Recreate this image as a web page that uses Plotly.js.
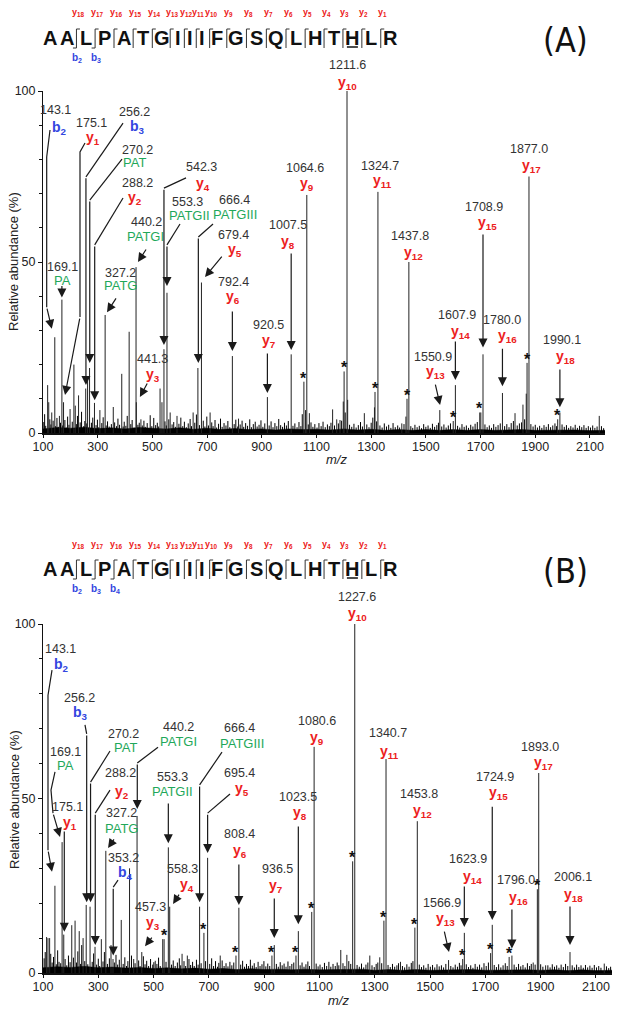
<!DOCTYPE html>
<html><head><meta charset="utf-8">
<script src="https://cdn.plot.ly/plotly-3.0.1.min.js"></script>
<style>html,body{margin:0;padding:0;background:#fff}#chart{width:623px;height:1011px}</style>
</head><body><div id="chart"></div>
<script>
// ---------------- DATA ----------------
const sequence = "AALPATGIIIFGSQLHTHLR";
const yIonNumbers = [18,17,16,15,14,13,12,11,10,9,8,7,6,5,4,3,2,1];
const bIonsA = [2,3];
const bIonsB = [2,3,4];

// Panel A: annotated peaks
const peaksA_mz  = [143.1,169.1,175.1,256.2,270.2,288.2,327.2,440.2,441.3,542.3,553.3,666.4,679.4,792.4,920.5,1007.5,1064.6,1211.6,1324.7,1437.8,1550.9,1607.9,1708.9,1780.0,1877.0,1990.1];
const peaksA_int = [28,39,9,13,19,8.8,34.5,48.5,9,24.5,41,19,44,22.5,10.5,23,69.6,100,70.5,50,6.7,14,23,11.7,75,6];
const peaksA_ion = ['b2','PA','y1','b3','PAT','y2','PATG','PATGI','y3','y4','PATGII','PATGIII','y5','y6','y7','y8','y9','y10','y11','y12','y13','y14','y15','y16','y17','y18'];
// Panel A: other (unlabelled) peaks
const otherA = [[117,14],[121,9],[132,6],[160,5],[199,7],[213,20],[218,8],[230,11],[263,16],[308,6.7],[357,7.6],[388,17.3],[415,29.6],[458,4],[528,13],[535,9],[565,6],[590,5],[649,6],[711,6],[815,4.2],[1054,15],[1060,6.7],[1074,5.8],[1159,6.9],[1174,4],[1186,3.8],[1198,9.2],[1201,18],[1214,9.7],[1275,5.8],[1312,7.5],[1314,12],[1412,2.8],[1427,4.8],[1431,10],[1600,3.5],[1697,6],[1701,6],[1826,5.8],[1855,8.3],[1867,11.5],[1870,20.5],[1982,4],[2134,5]];
const starsA = [1054,1201,1314,1431,1600,1697,1870,1982];
const noiseA = [[103,3.2],[106,5.5],[110,2.1],[125,4.0],[129,2.5],[137,3.6],[146,2.0],[151,4.4],[156,1.8],[164,3.0],[172,2.2],[180,3.8],[185,1.6],[190,4.8],[195,2.4],[207,3.3],[222,2.6],[226,5.0],[236,3.1],[241,6.2],[249,2.0],[253,3.5],[260,2.8],[277,3.0],[282,4.5],[294,2.3],[299,3.9],[304,1.7],[315,2.9],[320,4.6],[331,2.2],[336,3.4],[342,1.9],[350,2.6],[362,3.1],[369,2.0],[374,4.2],[380,2.4],[393,1.9],[397,3.3],[403,2.1],[408,5.0],[421,2.6],[426,3.8],[433,1.6],[447,2.4],[452,3.0],[463,2.2],[469,3.6],[474,1.8],[481,2.9],[492,5.2],[498,2.0],[505,4.4],[512,2.3],[518,3.0],[523,1.9],[546,3.4],[551,2.2],[560,4.0],[572,2.5],[578,3.2],[584,1.8],[597,2.7],[604,4.5],[611,2.0],[617,3.3],[624,1.7],[631,2.8],[638,4.1],[643,2.0],[655,3.0],[661,5.4],[672,2.3],[686,3.6],[692,1.9],[699,4.8],[705,2.2],[717,3.1],[722,2.0],[729,3.8],[735,1.6],[742,2.7],[749,4.2],[755,1.8],[762,2.9],[769,2.2],[776,3.5],[783,1.7],[799,2.6],[805,3.9],[812,1.9],[821,2.5],[828,3.6],[834,1.8],[841,2.9],[848,2.1],[856,4.0],[862,1.7],[869,2.6],[876,3.3],[883,1.9],[890,2.4],[897,3.7],[904,1.8],[911,2.8],[927,2.2],[934,3.4],[941,1.7],[948,2.9],[955,2.0],[962,4.1],[969,2.3],[976,1.8],[983,3.0],[990,2.2],[997,3.5],[1014,2.1],[1021,2.8],[1029,1.7],[1036,3.2],[1043,2.0],[1048,5.5],[1070,2.5],[1080,3.1],[1087,1.8],[1094,2.6],[1102,1.6],[1109,2.9],[1117,2.0],[1124,3.3],[1132,1.7],[1140,2.5],[1147,2.0],[1153,3.0],[1166,2.2],[1180,2.8],[1192,3.6],[1205,6.0],[1221,2.4],[1229,1.8],[1237,2.7],[1245,1.6],[1253,2.3],[1261,3.2],[1268,1.9],[1284,2.5],[1292,1.7],[1300,3.0],[1306,4.5],[1320,3.4],[1332,2.2],[1340,1.6],[1348,2.8],[1356,1.9],[1364,2.4],[1372,1.5],[1380,2.9],[1388,1.7],[1397,2.2],[1404,1.6],[1420,2.6],[1445,2.0],[1452,1.5],[1460,2.4],[1468,1.7],[1476,2.1],[1484,1.4],[1492,2.6],[1500,1.8],[1508,2.2],[1516,1.5],[1524,2.7],[1532,1.8],[1540,2.3],[1546,3.0],[1558,1.9],[1566,2.5],[1574,1.6],[1582,2.2],[1590,2.8],[1616,2.1],[1624,1.6],[1632,2.6],[1640,1.8],[1648,2.2],[1656,1.5],[1664,2.4],[1672,1.9],[1680,2.7],[1688,3.2],[1716,2.5],[1724,1.7],[1732,2.2],[1740,1.5],[1748,2.6],[1756,1.8],[1764,2.3],[1772,2.8],[1788,2.0],[1796,2.6],[1804,1.7],[1812,2.9],[1820,3.5],[1834,2.2],[1842,2.8],[1850,3.1],[1861,4.0],[1884,2.6],[1892,1.9],[1900,2.4],[1908,1.6],[1916,2.1],[1924,1.5],[1932,2.3],[1940,1.8],[1948,2.6],[1956,1.7],[1964,2.2],[1972,2.8],[1978,2.0],[1998,2.5],[2006,1.8],[2014,2.3],[2022,1.5],[2030,2.0],[2038,1.6],[2046,2.4],[2054,1.5],[2062,2.1],[2070,1.7],[2078,2.3],[2086,1.5],[2094,2.0],[2102,1.6],[2110,2.2],[2118,1.5],[2126,1.9],[2142,2.0],[2150,1.4]];
const floorA = [[100,1.2],[150,1.6],[200,1.4],[250,1.7],[300,1.3],[350,1.5],[400,1.2],[450,1.6],[500,1.4],[550,1.2],[600,1.5],[650,1.1],[700,1.4],[750,1.0],[800,1.3],[850,1.0],[900,1.2],[950,0.9],[1000,1.2],[1050,1.0],[1100,1.1],[1150,0.9],[1200,1.2],[1250,0.9],[1300,1.1],[1350,0.8],[1400,1.0],[1450,0.8],[1500,1.0],[1550,0.8],[1600,1.0],[1650,0.8],[1700,1.0],[1750,0.8],[1800,0.9],[1850,1.0],[1900,0.8],[1950,0.9],[2000,0.8],[2050,0.9],[2100,0.7],[2155,0.8]];

// Panel B: annotated peaks
const peaksB_mz  = [143.1,169.1,175.1,256.2,270.2,288.2,327.2,353.2,440.2,457.3,553.3,558.3,666.4,695.4,808.4,936.5,1023.5,1080.6,1227.6,1340.7,1453.8,1566.9,1623.9,1724.9,1796.0,1893.0,2006.1];
const peaksB_int = [25,37.5,11,19.5,19,7.5,35,4,45,6,36,19,19,33,18.7,8,12,64.8,100,61.3,43.5,3.7,11.5,13.8,5,57.3,6];
const peaksB_ion = ['b2','PA','y1','b3','PAT','y2','PATG','b4','PATGI','y3','PATGII','y4','PATGIII','y5','y6','y7','y8','y9','y10','y11','y12','y13','y14','y15','y16','y17','y18'];
const otherB = [[113,10.3],[118,10],[124,10],[204,13.7],[216,15],[231,12],[245,10],[311,9.7],[346,8],[383,15.2],[413,30],[428,4],[506,3.5],[533,9.7],[538,9.7],[603,5.5],[622,5],[682,11.5],[741,5],[798,5],[928,5],[1015,5],[1072,17.5],[1177,6.6],[1199,5.2],[1220,32],[1282,5],[1318,4.5],[1333,15],[1393,3.2],[1445,13],[1618,4],[1719,5.7],[1786,4.6],[1873,3],[1888,24],[1918,2.2],[2130,2.7]];
const starsB = [538,682,798,928,1015,1072,1220,1333,1445,1618,1719,1786,1888];
const noiseB = [[104,4.2],[108,6.0],[128,5.5],[133,3.0],[138,4.6],[148,2.5],[153,6.5],[158,3.2],[164,2.8],[180,4.0],[186,2.2],[192,5.0],[198,3.1],[210,4.4],[221,3.0],[226,6.2],[236,2.6],[240,8.0],[251,3.4],[262,2.5],[278,3.2],[283,5.6],[294,2.4],[300,4.1],[305,2.0],[317,3.3],[322,6.0],[333,2.6],[340,4.2],[358,3.0],[364,5.2],[370,2.4],[376,3.8],[390,2.6],[396,4.5],[402,2.0],[407,3.4],[420,5.0],[433,2.8],[446,3.6],[451,2.0],[463,4.8],[469,2.5],[475,3.5],[482,2.0],[489,4.0],[497,2.4],[501,3.1],[512,2.6],[518,4.4],[524,2.0],[545,3.2],[565,2.4],[571,3.6],[578,2.0],[586,3.0],[593,4.2],[598,2.2],[610,3.4],[616,2.0],[628,4.0],[634,2.3],[641,3.2],[647,2.0],[655,3.8],[661,2.4],[672,2.8],[688,3.4],[703,2.6],[710,4.2],[717,2.0],[724,3.4],[731,1.8],[736,2.9],[748,3.6],[755,2.0],[762,2.8],[769,1.9],[776,3.2],[783,2.2],[790,3.0],[815,2.4],[822,3.5],[829,1.8],[836,2.6],[843,2.0],[850,3.8],[857,2.1],[864,2.8],[871,1.7],[878,3.2],[885,2.0],[892,2.5],[899,3.4],[906,1.9],[913,2.7],[920,2.0],[944,2.6],[951,1.8],[958,3.1],[965,2.2],[972,2.7],[979,1.8],[986,3.3],[993,2.0],[1000,2.6],[1007,3.0],[1030,2.2],[1037,3.0],[1044,1.8],[1051,2.5],[1058,3.3],[1064,2.0],[1088,2.7],[1095,1.9],[1102,2.4],[1110,1.7],[1118,2.9],[1126,2.0],[1134,3.2],[1141,1.8],[1149,2.6],[1157,2.0],[1164,3.0],[1170,2.2],[1185,2.8],[1192,2.0],[1206,3.4],[1213,2.6],[1236,2.3],[1244,1.8],[1252,2.7],[1260,1.6],[1268,2.4],[1275,3.0],[1290,2.2],[1298,1.7],[1305,2.6],[1311,3.0],[1325,2.8],[1348,2.3],[1356,1.7],[1364,2.6],[1372,1.8],[1380,2.2],[1386,2.8],[1400,2.0],[1408,1.6],[1416,2.5],[1424,1.8],[1432,2.9],[1438,3.4],[1461,2.4],[1469,1.7],[1477,2.2],[1485,1.5],[1493,2.6],[1501,1.8],[1509,2.3],[1517,1.6],[1525,2.5],[1533,1.9],[1541,2.2],[1549,1.6],[1557,2.6],[1575,2.0],[1583,1.6],[1591,2.4],[1599,1.8],[1606,2.9],[1612,2.2],[1631,2.5],[1639,1.7],[1647,2.2],[1655,1.5],[1663,2.6],[1671,1.8],[1679,2.4],[1687,1.6],[1695,2.8],[1703,2.0],[1711,3.0],[1732,2.3],[1740,1.7],[1748,2.5],[1756,1.6],[1764,2.2],[1772,2.8],[1779,2.0],[1804,2.4],[1812,1.7],[1820,2.6],[1828,1.9],[1836,2.3],[1844,1.6],[1852,2.8],[1860,2.0],[1866,2.6],[1880,2.4],[1900,2.5],[1908,1.8],[1926,2.2],[1934,1.6],[1942,2.5],[1950,1.8],[1958,2.2],[1966,1.5],[1974,2.4],[1982,1.7],[1990,2.6],[1998,2.0],[2014,2.2],[2022,1.6],[2030,2.4],[2038,1.7],[2046,2.2],[2054,1.5],[2062,2.3],[2070,1.6],[2078,2.1],[2086,1.5],[2094,2.3],[2102,1.6],[2110,2.0],[2118,1.5],[2138,1.9],[2146,1.4],[2153,1.8]];
const floorB = [[100,1.5],[150,1.8],[200,1.6],[250,1.9],[300,1.5],[350,1.7],[400,1.4],[450,1.6],[500,1.3],[550,1.5],[600,1.2],[650,1.4],[700,1.1],[750,1.3],[800,1.0],[850,1.2],[900,1.0],[950,1.1],[1000,0.9],[1050,1.1],[1100,0.9],[1150,1.0],[1200,0.9],[1250,1.1],[1300,0.8],[1350,1.0],[1400,0.8],[1450,1.0],[1500,0.8],[1550,0.9],[1600,0.8],[1650,1.0],[1700,0.8],[1750,0.9],[1800,0.8],[1850,0.9],[1900,0.8],[1950,0.9],[2000,0.7],[2050,0.9],[2100,0.7],[2158,0.8]];

// ---------------- LAYOUT SPECS (label placement, leader lines) ----------------
const layA = [
 {mx:144,my:94.4,ix:162,iy:89.2,path:[[125.6,88.6],[113.5,80.7],[113.5,36.8]],dx:-11,dy:2.5},
 {mx:173,my:48.5,ix:173,iy:44.7,path:[[169.1,43.4]],dx:0,dy:0.6},
 {mx:279,my:90.6,ix:283,iy:86.3,path:[[253.6,84.8],[235.3,82.2],[235.3,33.9]],dx:5.4,dy:2.1},
 {mx:436,my:93.9,ix:444,iy:89.5,path:[[392.6,90.6],[257,74.9]],dx:0.8,dy:1},
 {mx:444,my:82.7,ix:436,iy:79.2,path:[[388.9,80.1],[271,68.1]],dx:0.8,dy:1.5},
 {mx:444,my:73.1,ix:436,iy:68.7,path:[[392.6,68.7],[289,55]],dx:0.8,dy:0.8},
 {mx:385,my:46.8,ix:385,iy:43.0,path:[[370.6,39.8]],dx:6.8,dy:0.8},
 {mx:480,my:61.7,ix:473,iy:57.6,path:[[480.3,54.1]],dx:7,dy:1.5},
 {mx:499,my:21.6,ix:502,iy:17,path:[[484,14.9]],dx:13,dy:1.5},
 {mx:681,my:77.8,ix:685,iy:72.8,path:[[622.9,74.6],[542.3,71.6]],dx:0,dy:1.2},
 {mx:630,my:67.5,ix:634,iy:63.7,path:[[601,61.1],[553.3,55]],dx:0,dy:2},
 {mx:802,my:68.1,ix:802,iy:64,path:[[721.7,61.1],[668,57.3]],dx:1.6,dy:1.5},
 {mx:795,my:57.9,ix:802,iy:53.5,path:[[758.3,52]],dx:13,dy:1.6},
 {mx:795,my:44.2,ix:795,iy:39.8,path:[[792.4,36]],dx:0,dy:1.5},
 {mx:926,my:31.6,ix:926,iy:26.9,path:[[920.5,23.7]],dx:0,dy:1.2},
 {mx:996,my:60.8,ix:996,iy:55.8,path:[[1007.5,52.9]],dx:0,dy:1.3},
 {mx:1058,my:77.5,ix:1065,iy:72.8},
 {mx:1215,my:107.6,ix:1215,iy:102.3},
 {mx:1332,my:78.1,ix:1340,iy:73.7},
 {mx:1442,my:57.6,ix:1453,iy:52.6},
 {mx:1526,my:22.2,ix:1537,iy:17.8,path:[[1533.5,14.6]],dx:1,dy:1.5},
 {mx:1614,my:34.5,ix:1625,iy:29.5,path:[[1607.9,27.2]],dx:0,dy:1.5},
 {mx:1713,my:66.1,ix:1724,iy:61.4,path:[[1708.9,58.5]],dx:0,dy:2},
 {mx:1778,my:33,ix:1797,iy:28.4,path:[[1780,25.1]],dx:0,dy:2},
 {mx:1877,my:83,ix:1888,iy:78.1},
 {mx:1998,my:27.2,ix:2009,iy:22.2,path:[[1990.1,19]],dx:0,dy:1.5}
];
const layB = [
 {mx:161.5,my:92.8,ix:168.7,iy:88.2,path:[[132.6,86.8],[118.1,79.6],[118.1,35.2]],dx:-10.5,dy:4},
 {mx:179.6,my:63.3,ix:179.6,iy:59.6,path:[[143.4,57.6],[128.9,52.4],[136.2,45.8]],dx:-7.6,dy:1.5},
 {mx:186.8,my:47.6,ix:197.7,iy:43,path:[[177,41]],dx:1.9,dy:0.8},
 {mx:233.8,my:78.8,ix:237.4,iy:74.5,path:[[251.9,71.1],[258,68.5]],dx:1.8,dy:0.8},
 {mx:389.4,my:68.5,ix:396.6,iy:64.7,path:[[342.3,63.6],[272,54.7]],dx:1.8,dy:1.3},
 {mx:378.5,my:57.3,ix:385.7,iy:51.9,path:[[342.3,52.4],[289,45.8]],dx:0.8,dy:0.5},
 {mx:385.7,my:45.8,ix:385.7,iy:41.5,path:[[360.4,38.7]],dx:8,dy:0.8},
 {mx:389.4,my:32.9,ix:396.6,iy:28.7,path:[[371.3,26.6],[354,24.6]],dx:0.8,dy:1},
 {mx:588.3,my:70.5,ix:588.3,iy:66.2,path:[[516,64.7],[441,60.2]],dx:0.8,dy:2},
 {mx:487,my:18.9,ix:497.9,iy:14.3,path:[[497.9,10.6]],dx:11.6,dy:1.7},
 {mx:566.6,my:56.2,ix:566.6,iy:51.9,path:[[553.3,49]],dx:0,dy:1.2},
 {mx:602.8,my:29.8,ix:620.8,iy:25.2,path:[[595.5,22.9]],dx:12,dy:0.8},
 {mx:812.5,my:70.2,ix:819.8,iy:65.9,path:[[747.4,63.3],[666.4,53.9]],dx:0,dy:1.3},
 {mx:812.5,my:57.3,ix:819.8,iy:52.7,path:[[776.4,51.3],[695.4,45.8]],dx:0,dy:1.4},
 {mx:808.9,my:39.8,ix:812.5,iy:35,path:[[808.4,31.5]],dx:0,dy:0.8},
 {mx:946.4,my:29.8,ix:942.8,iy:24.9,path:[[936.5,21.8]],dx:0,dy:2},
 {mx:1022.3,my:50.4,ix:1029.6,iy:45.8,path:[[1023.5,42.4]],dx:0,dy:2},
 {mx:1091,my:72.2,ix:1091,iy:67.3},
 {mx:1235.7,my:107.7,ix:1235.7,iy:102.9},
 {mx:1347.9,my:68.8,ix:1351.5,iy:63.3},
 {mx:1460,my:51.3,ix:1470.8,iy:46.4},
 {mx:1543.2,my:20.1,ix:1554,iy:15.5,path:[[1550.4,12.3]],dx:1.6,dy:2.3},
 {mx:1637.2,my:32.7,ix:1651.7,iy:27.5,path:[[1623.9,25.2]],dx:0,dy:1.7},
 {mx:1734.9,my:56.2,ix:1745.7,iy:51.6,path:[[1724.9,48.1]],dx:0,dy:1.4},
 {mx:1810.8,my:26.6,ix:1818.1,iy:21.5,path:[[1796,18.6]],dx:0,dy:2},
 {mx:1897.6,my:64.7,ix:1908.5,iy:60.2},
 {mx:2017,my:27.5,ix:2017,iy:22.3,path:[[2006.1,19.5]],dx:0,dy:2}
];
const letterX = [50,67,85.9,104.3,123.7,142.6,162,178.4,190.3,202.2,217.1,236.5,256.4,276.3,295.7,314.6,333.5,352.4,371.3,390.2];

// ---------------- BUILD ----------------
const FONT = 'Liberation Sans, Arial, Helvetica, sans-serif';
const W = 623, H = 1011, ML = 43, PW = 580;
const px2x = px => (px - ML) / PW;
const py2y = py => 1 - py / H;
const RED = '#ec2020', GREEN = '#1fa85a', BLUE = '#3246e0', INK = '#1a1a1a';

const axes = {
  x:  {domain:[0, 562/PW], range:[100, 2155]},
  x2: {domain:[0, 569/PW], range:[100, 2158]},
  y:  {domain:[(H-433)/H, (H-91)/H], range:[0, 100]},
  y2: {domain:[(H-973)/H, (H-624)/H], range:[0, 100]}
};
const toPaper = (ax, v) => { const a = axes[ax]; return a.domain[0] + (v - a.range[0]) / (a.range[1] - a.range[0]) * (a.domain[1] - a.domain[0]); };

const traces = [], annotations = [], shapes = [];

function sticks(pairs, xa, ya, color, width) {
  const x = [], y = [];
  pairs.forEach(([m, v]) => { x.push(m, m, null); y.push(0, v, null); });
  traces.push({type:'scatter', mode:'lines', x, y, xaxis:xa, yaxis:ya, line:{color, width}, hoverinfo:'skip', showlegend:false});
}
function floorTrace(pairs, xa, ya) {
  traces.push({type:'scatter', mode:'lines', x:pairs.map(p=>p[0]), y:pairs.map(p=>p[1]), xaxis:xa, yaxis:ya,
    fill:'tozeroy', fillcolor:'#000', line:{color:'#000', width:0.5}, hoverinfo:'skip', showlegend:false});
}
function ionHtml(lbl) {
  const m = /^([yb])(\d+)$/.exec(lbl);
  if (m) return {text:`<b>${m[1]}<sub>${m[2]}</sub></b>`, color: m[1]==='y'?RED:BLUE, size:14};
  return {text: lbl, color: GREEN, size: 13};
}
function label(xa, ya, x, y, text, font) {
  const a = {text, font, showarrow:false, xanchor:'center', yanchor:'middle'};
  if (y > 100) { a.xref = 'paper'; a.yref = 'paper'; a.x = toPaper(xa, x); a.y = toPaper(ya, y); }
  else { a.xref = xa; a.yref = ya; a.x = x; a.y = y; }
  annotations.push(a);
}
function panel(mzArr, intArr, ionArr, others, stars, noise, floor, lay, xa, ya) {
  floorTrace(floor, xa, ya);
  sticks(noise, xa, ya, '#000', 1);
  sticks(others, xa, ya, '#222', 1);
  sticks(mzArr.map((m,i)=>[m, intArr[i]]), xa, ya, '#222', 1);
  mzArr.forEach((m, i) => {
    const I = intArr[i], L = lay[i];
    label(xa, ya, L.mx, L.my, m.toFixed(1), {family:FONT, size:12.5, color:'#333'});
    const ion = ionHtml(ionArr[i]);
    label(xa, ya, L.ix, L.iy, ion.text, {family:FONT, size:ion.size, color:ion.color});
    if (L.path) {
      const pts = L.path;
      if (pts.length > 1) {
        shapes.push({type:'path', xref:xa, yref:ya, layer:'above',
          path:'M' + pts.map(p => p[0] + ',' + p[1]).join('L'), line:{color:INK, width:1.2}});
      }
      const tail = pts[pts.length - 1];
      annotations.push({xref:xa, yref:ya, axref:xa, ayref:ya, x:m + L.dx, y:I + L.dy,
        ax:tail[0], ay:tail[1], text:'', showarrow:true, arrowhead:2, arrowsize:1.5,
        arrowwidth:1.2, arrowcolor:INK, standoff:0});
    }
  });
  stars.forEach(s => {
    const p = others.find(o => o[0] === s);
    annotations.push({xref:xa, yref:ya, x:s, y:p[1], text:'<b>*</b>', showarrow:false,
      font:{family:FONT, size:16, color:'#111'}, xanchor:'center', yanchor:'bottom', yshift:-7});
  });
}
function header(off, bIons, lbl) {
  const yL = 38 + off, top = 29 + off, bot = 48 + off;
  for (let i = 0; i < sequence.length; i++) {
    annotations.push({xref:'paper', yref:'paper', x:px2x(letterX[i]), y:py2y(yL),
      text:'<b>' + sequence[i] + '</b>', showarrow:false, xanchor:'center', yanchor:'middle',
      font:{family:FONT, size:20, color:'#111'}});
  }
  yIonNumbers.forEach((n, k) => {
    const bx = (letterX[k+1] + letterX[k+2]) / 2;
    const hasB = bIons.includes(k + 2);
    let d = `M${px2x(bx+3.5)},${py2y(top)}L${px2x(bx)},${py2y(top)}L${px2x(bx)},${py2y(bot)}`;
    if (hasB) d += `L${px2x(bx-3.5)},${py2y(bot)}`;
    shapes.push({type:'path', xref:'paper', yref:'paper', path:d, line:{color:'#333', width:1}});
    annotations.push({xref:'paper', yref:'paper', x:px2x(bx+2), y:py2y(13+off),
      text:`<b>y<sub>${n}</sub></b>`, showarrow:false, xanchor:'center', yanchor:'middle',
      font:{family:FONT, size:9, color:RED}});
    if (hasB) {
      annotations.push({xref:'paper', yref:'paper', x:px2x(bx+1), y:py2y(58+off),
        text:`<b>b<sub>${k+2}</sub></b>`, showarrow:false, xanchor:'center', yanchor:'middle',
        font:{family:FONT, size:10, color:BLUE}});
    }
  });
  shapes.push({type:'line', xref:'paper', yref:'paper', x0:px2x(letterX[17]-5.5), x1:px2x(letterX[17]+5.5),
    y0:py2y(47+off), y1:py2y(47+off), line:{color:'#111', width:1.5}});
  annotations.push({xref:'paper', yref:'paper', x:px2x(565), y:py2y(40+off), text:lbl,
    showarrow:false, xanchor:'center', yanchor:'middle',
    font:{family:'Liberation Sans Narrow, DejaVu Sans Condensed, Arial Narrow, sans-serif', size:34, color:'#111'}});
}

panel(peaksA_mz, peaksA_int, peaksA_ion, otherA, starsA, noiseA, floorA, layA, 'x', 'y');
panel(peaksB_mz, peaksB_int, peaksB_ion, otherB, starsB, noiseB, floorB, layB, 'x2', 'y2');
header(0, bIonsA, '(A)');
header(531, bIonsB, '(B)');

[[262, 459, 336], [800, 1000, 338]].forEach(([yc, mzY, mzX]) => {
  annotations.push({xref:'paper', yref:'paper', x:px2x(14), y:py2y(yc), text:'Relative abundance (%)',
    textangle:-90, showarrow:false, xanchor:'center', yanchor:'middle', font:{family:FONT, size:13, color:'#222'}});
  annotations.push({xref:'paper', yref:'paper', x:px2x(mzX), y:py2y(mzY), text:'<i>m/z</i>',
    showarrow:false, xanchor:'center', yanchor:'middle', font:{family:FONT, size:13, color:'#222'}});
});

const xTicks = {showline:true, linecolor:'#111', linewidth:1.5, ticks:'outside', ticklen:3, tickcolor:'#111',
  tickmode:'linear', tick0:100, dtick:200, showgrid:false, zeroline:false, ticklabelstandoff:-2,
  tickfont:{family:FONT, size:12.5, color:'#222'}};
const yTicks = {showline:true, linecolor:'#111', linewidth:1, ticks:'outside', ticklen:4, tickcolor:'#111',
  tickmode:'linear', tick0:0, dtick:50, showgrid:false, zeroline:false,
  minor:{dtick:10, ticks:'outside', ticklen:3, tickcolor:'#111'},
  tickfont:{family:FONT, size:12.5, color:'#222'}};

const layout = {
  width:W, height:H, margin:{l:ML, r:0, t:0, b:0}, paper_bgcolor:'#fff', plot_bgcolor:'#fff',
  showlegend:false, hovermode:false,
  xaxis: Object.assign({}, xTicks, axes.x, {anchor:'y'}),
  yaxis: Object.assign({}, yTicks, axes.y, {anchor:'x'}),
  xaxis2: Object.assign({}, xTicks, axes.x2, {anchor:'y2'}),
  yaxis2: Object.assign({}, yTicks, axes.y2, {anchor:'x2'}),
  annotations, shapes
};
Plotly.newPlot('chart', traces, layout, {staticPlot:true, displayModeBar:false});
</script></body></html>
